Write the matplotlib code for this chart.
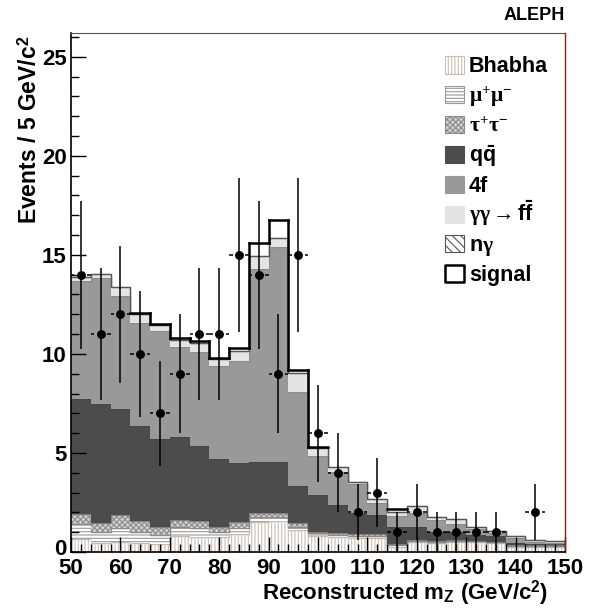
import numpy as np
import matplotlib
matplotlib.use("Agg")
import matplotlib.pyplot as plt
from matplotlib.patches import Rectangle
from matplotlib.transforms import ScaledTranslation

plt.rcParams['font.family'] = ['Liberation Sans', 'DejaVu Sans']
plt.rcParams['font.weight'] = 'bold'
plt.rcParams['mathtext.fontset'] = 'custom'
plt.rcParams['mathtext.rm'] = 'Liberation Serif'
plt.rcParams['mathtext.it'] = 'Liberation Serif:italic'
plt.rcParams['mathtext.bf'] = 'Liberation Sans:bold'
plt.rcParams['mathtext.sf'] = 'Liberation Sans:bold'
plt.rcParams['hatch.linewidth'] = 0.8

# ---- data (25 bins of 4 GeV from 50 to 150) ----
bin_edges = np.arange(50, 151, 4)
data = [14, 11, 12, 10, 7, 9, 11, 11, 15, 14, 9, 15, 6, 4, 2, 3, 1, 2, 1, 1, 1, 1, 0, 2, 0]

bhabha = [0.64, 0.44, 0.52, 0.44, 0.39, 0.81, 0.74, 0.74, 0.91, 1.53, 1.58, 1.11, 0.81,
          0.74, 0.70, 0.70, 0.27, 0.52, 0.44, 0.52, 0.50, 0.44, 0.27, 0.27, 0.27]
mumu = [0.77, 0.59, 0.67, 0.59, 0.47, 0.44, 0.45, 0.26, 0.28, 0.22, 0.17, 0.17, 0.14,
        0.11, 0.10, 0.10, 0.06, 0.06, 0.06, 0.05, 0.04, 0.04, 0.03, 0.03, 0.03]
tautau = [0.51, 0.45, 0.68, 0.55, 0.42, 0.37, 0.36, 0.28, 0.34, 0.24, 0.24, 0.17, 0.08,
          0.09, 0.09, 0.09, 0.05, 0.04, 0.05, 0.03, 0.03, 0.04, 0.03, 0.03, 0.03]
qqbar = [5.79, 5.99, 5.35, 4.78, 4.43, 4.17, 3.82, 3.42, 2.95, 2.57, 2.57, 1.88, 1.85,
         1.43, 1.06, 0.96, 0.90, 0.66, 0.48, 0.40, 0.27, 0.28, 0.14, 0.05, 0.05]
fourf = [5.99, 6.38, 5.68, 5.19, 5.45, 4.58, 4.71, 4.71, 5.18, 9.72, 10.83, 4.74, 1.97,
         1.65, 1.47, 0.60, 0.52, 0.71, 0.59, 0.42, 0.31, 0.18, 0.25, 0.12, 0.08]
gamgam = [0.20, 0.20, 0.50, 0.45, 0.29, 0.33, 0.47, 0.31, 0.49, 0.67, 0.45, 0.95, 0.40,
          0.26, 0.13, 0.21, 0.20, 0.33, 0.13, 0.23, 0.13, 0.10, 0.09, 0.09, 0.08]
ngamma = [0.0] * 25
signal = [0.0, 0.0, 0.0, 0.05, 0.05, 0.09, 0.11, 0.09, 0.14, 0.67, 0.93, 0.17, 0.07,
          0.0, 0.0, 0.0, 0.15, 0.0, 0.0, 0.0, 0.0, 0.0, 0.0, 0.0, 0.0]

legend_labels = ['Bhabha', r'$\mathrm{\mu^{+}\mu^{-}}$', r'$\mathrm{\tau^{+}\tau^{-}}$',
                 r'$\mathbf{q\bar{q}}$', '4f',
                 r'$\mathrm{\gamma\gamma \rightarrow }\mathbf{f\bar{f}}$',
                 r'$\mathbf{n}\mathrm{\gamma}$', 'signal']

# ---- figure ----
W, H = 589, 616
fig = plt.figure(figsize=(W / 100, H / 100), dpi=100)
ax = fig.add_axes([71 / W, 1 - 552 / H, (565 - 71) / W, (552 - 33) / H])

layers = [
    (bhabha, dict(facecolor='white', hatch='|||||', hatchcolor='#cbbfb4', edge='#c8bdb3')),
    (mumu, dict(facecolor='white', hatch='-----', hatchcolor='#9a9a9a', edge='#8a8a8a')),
    (tautau, dict(facecolor='#d2d2d2', hatch='xxxxxx', hatchcolor='#8c8c8c', edge='#808080')),
    (qqbar, dict(facecolor='#4c4c4c', hatch=None, hatchcolor=None, edge='#474747')),
    (fourf, dict(facecolor='#999999', hatch=None, hatchcolor=None, edge='#8c8c8c')),
    (gamgam, dict(facecolor='#e4e4e4', hatch=None, hatchcolor=None, edge='#bdbdbd')),
    (ngamma, dict(facecolor='white', hatch='\\\\\\\\', hatchcolor='#555555', edge='#555555')),
]

base = np.zeros(len(data))
for vals, st in layers:
    top = base + np.asarray(vals)
    if st['hatch']:
        ax.stairs(top, bin_edges, baseline=base, fill=True, facecolor=st['facecolor'],
                  edgecolor=st['hatchcolor'], hatch=st['hatch'], linewidth=0)
    else:
        ax.stairs(top, bin_edges, baseline=base, fill=True, facecolor=st['facecolor'],
                  edgecolor='none', linewidth=0)
    ax.stairs(top, bin_edges, baseline=None, fill=False, edgecolor=st['edge'], linewidth=1.0)
    base = top

# signal outline (only where signal is present)
sig = np.asarray(signal)
sig_top = np.where(sig > 0, base + sig, np.nan)
for i in range(len(sig)):
    if sig[i] > 0:
        ax.plot(bin_edges[i:i + 2], [sig_top[i], sig_top[i]], color='black', lw=1.8,
                solid_capstyle='projecting')
        if i + 1 < len(sig) and sig[i + 1] > 0:
            ax.plot([bin_edges[i + 1]] * 2, [sig_top[i], sig_top[i + 1]], color='black', lw=1.8)

# data points
centers = 0.5 * (bin_edges[:-1] + bin_edges[1:])
d = np.asarray(data, dtype=float)
m = d > 0
err = np.sqrt(d)
ax.vlines(centers[m], (d - err)[m], (d + err)[m], color='black', lw=1.1)
gap = 1.3
half = 2.0
ax.hlines(d[m], centers[m] - half, centers[m] - gap, color='black', lw=1.1)
ax.hlines(d[m], centers[m] + gap, centers[m] + half, color='black', lw=1.1)
ax.plot(centers[m], d[m], 'o', color='black', ms=5.4, zorder=5)

ax.set_xlim(50, 150)
ax.set_ylim(0, 26.2)
ax.set_xticks(np.arange(50, 151, 10))
ax.set_xticks(np.arange(50, 151, 2), minor=True)
ax.set_yticks(np.arange(0, 26, 5))
ax.set_yticks(np.arange(0, 27, 1), minor=True)
ax.tick_params(which='both', direction='in', top=False, right=False, labelsize=16)
ax.tick_params(axis='x', pad=4)
ax.tick_params(axis='y', pad=3)
ax.tick_params(which='major', length=11, width=1.0)
ax.tick_params(which='minor', length=6, width=1.0)
for lab in ax.get_xticklabels() + ax.get_yticklabels():
    lab.set_fontweight('bold')
# lift the "0" y label slightly so it clears the "50" x label (as in the reference)
fig.canvas.draw()
ylabs = ax.get_yticklabels()
ylabs[0].set_transform(ylabs[0].get_transform() + ScaledTranslation(0, 5 / 100, fig.dpi_scale_trans))
for s in ['left', 'bottom']:
    ax.spines[s].set_linewidth(1.2)
ax.spines['top'].set_color('#555555')
ax.spines['top'].set_linewidth(0.8)
ax.spines['right'].set_color('#cc0000')
ax.spines['right'].set_linewidth(1.0)

ax.set_xlabel(r'Reconstructed m$_{\mathbf{Z}}$ (GeV/c$^{\mathbf{2}}$)', fontsize=16,
              fontweight='bold', ha='right')
ax.xaxis.set_label_coords((548 - 71) / 494, (552 - 578) / 519)
ax.set_ylabel(r'Events / 5 GeV/c$^{\mathbf{2}}$', fontsize=16.5, fontweight='bold',
              ha='right')
ax.yaxis.set_label_coords((42 - 71) / 494, (552 - 36) / 519)

fig.text(565 / W, 1 - 16 / H, 'ALEPH', ha='right', va='center', fontsize=13,
         fontweight='bold')

# legend (drawn manually in figure pixels)
box_x0, box_w, box_h = 445, 19, 17
row0, row_step = 65, 29.8
styles = [st for _, st in layers] + [dict(facecolor='white', hatch=None, hatchcolor=None,
                                          edge='black')]
for i, (lab, st) in enumerate(zip(legend_labels, styles)):
    yc = row0 + i * row_step
    if i == len(legend_labels) - 1:
        r = Rectangle((box_x0 / W, 1 - (yc + box_h / 2) / H), box_w / W, box_h / H,
                      transform=fig.transFigure, facecolor='white', edgecolor='black',
                      linewidth=1.8, joinstyle='round')
    elif st['hatch']:
        r = Rectangle((box_x0 / W, 1 - (yc + box_h / 2) / H), box_w / W, box_h / H,
                      transform=fig.transFigure, facecolor=st['facecolor'],
                      edgecolor=st['hatchcolor'], hatch=st['hatch'], linewidth=0.8)
    else:
        r = Rectangle((box_x0 / W, 1 - (yc + box_h / 2) / H), box_w / W, box_h / H,
                      transform=fig.transFigure, facecolor=st['facecolor'],
                      edgecolor=st['facecolor'], linewidth=0.8)
    fig.add_artist(r)
    fig.text(469 / W, 1 - (yc + 7.5) / H, lab, ha='left', va='baseline', fontsize=15.5,
             fontweight='bold')

fig.savefig('out.png', dpi=100)
